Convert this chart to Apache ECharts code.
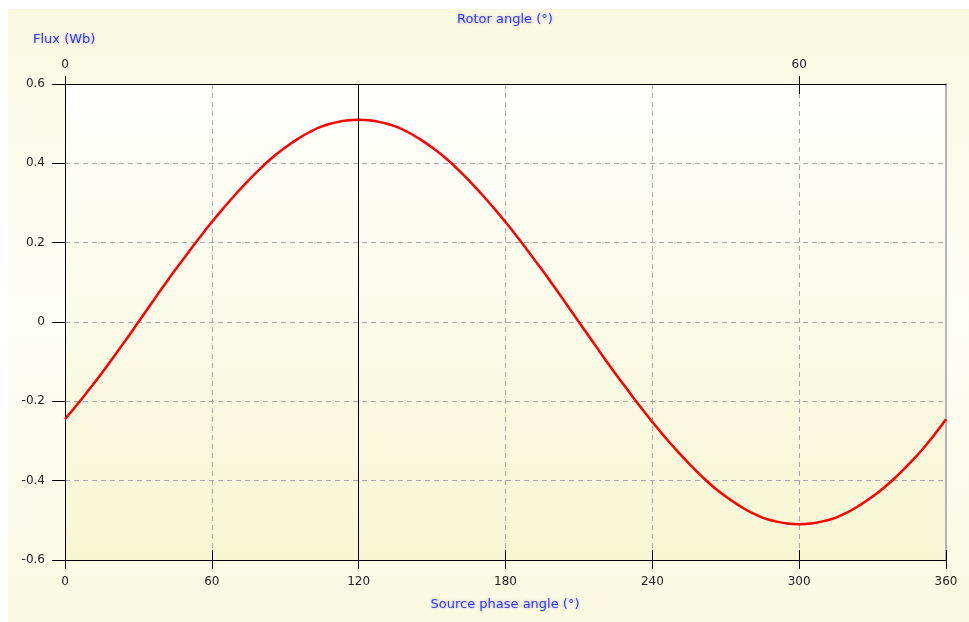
<!DOCTYPE html>
<html>
<head>
<meta charset="utf-8">
<script src="https://cdn.jsdelivr.net/npm/echarts@6/dist/echarts.min.js"></script>
<style>
html,body{margin:0;padding:0;background:#fff;}
#chart{width:969px;height:622px;}
</style>
</head>
<body>
<div id="chart"></div>
<script>
// Source phase angle (degrees)
const sourceAngles = [0,5,10,15,20,25,30,35,40,45,50,55,60,65,70,75,80,85,90,95,100,105,110,115,120,125,130,135,140,145,150,155,160,165,170,175,180,185,190,195,200,205,210,215,220,225,230,235,240,245,250,255,260,265,270,275,280,285,290,295,300,305,310,315,320,325,330,335,340,345,350,355,360];
// Flux (Wb)
const fluxValues = [-0.245,-0.208,-0.169,-0.129,-0.087,-0.044,0.000,0.044,0.088,0.131,0.172,0.213,0.252,0.289,0.324,0.357,0.388,0.416,0.440,0.461,0.479,0.493,0.502,0.508,0.510,0.508,0.502,0.493,0.479,0.461,0.440,0.416,0.388,0.357,0.324,0.289,0.252,0.213,0.172,0.131,0.088,0.044,0.000,-0.044,-0.088,-0.131,-0.172,-0.213,-0.252,-0.289,-0.324,-0.357,-0.388,-0.416,-0.440,-0.461,-0.479,-0.493,-0.502,-0.508,-0.510,-0.508,-0.502,-0.493,-0.479,-0.461,-0.440,-0.416,-0.388,-0.357,-0.324,-0.286,-0.245];
const sourceTicks = [0,60,120,180,240,300,360];
const rotorTicks = [0,60];
const fluxTicks = [-0.6,-0.4,-0.2,0,0.2,0.4,0.6];
const markerAngle = 120;

const chart = echarts.init(document.getElementById('chart'));
const font = 'DejaVu Sans';
const labelStyle = {color:'#222', fontFamily:font, fontSize:12};
const titleStyle = {fill:'#3535ff', fontFamily:font, fontSize:13, textShadowColor:'rgba(120,120,255,0.55)', textShadowBlur:3};

const option = {
  backgroundColor:'#ffffff',
  animation:false,
  graphic:[
    {type:'rect', left:8, top:9, z:-10, silent:true,
     shape:{width:961, height:613},
     style:{fill:new echarts.graphic.LinearGradient(0,0,0,1,[
       {offset:0,color:'#f9f9e1'},{offset:0.5,color:'#fefef9'},{offset:1,color:'#f9f9e1'}])}},
    {type:'text', left:33, top:33, style:Object.assign({text:'Flux (Wb)'}, titleStyle)},
    {type:'text', x:505, y:20, style:Object.assign({text:'Rotor angle (°)', textAlign:'center', textVerticalAlign:'middle'}, titleStyle)},
    {type:'text', x:505, y:605, style:Object.assign({text:'Source phase angle (°)', textAlign:'center', textVerticalAlign:'middle'}, titleStyle)}
  ],
  grid:{left:65, right:23, top:84, bottom:62, show:true, borderWidth:0,
    backgroundColor:new echarts.graphic.LinearGradient(0,0,0,1,[
      {offset:0,color:'#ffffff'},{offset:1,color:'#f7f6d2'}])},
  xAxis:[
    {type:'value', position:'bottom', min:0, max:360, interval:60,
     axisLine:{onZero:false, lineStyle:{color:'#000', width:1}},
     axisTick:{show:true, inside:false, length:9, lineStyle:{color:'#000'}},
     axisLabel:Object.assign({margin:16, customValues:sourceTicks}, labelStyle),
     splitLine:{show:true, lineStyle:{color:'#a8a8a8', type:[5,4], width:1}}},
    {type:'value', position:'bottom', min:0, max:360, interval:60,
     axisLine:{show:false, onZero:false},
     axisTick:{show:true, inside:true, length:10, lineStyle:{color:'#000'}},
     axisLabel:{show:false}, splitLine:{show:false}},
    {type:'value', position:'top', min:0, max:72, interval:60,
     axisLine:{onZero:false, lineStyle:{color:'#000', width:1}},
     axisTick:{show:true, inside:false, length:8, customValues:rotorTicks, lineStyle:{color:'#000'}},
     axisLabel:Object.assign({margin:13, customValues:rotorTicks}, labelStyle),
     splitLine:{show:false}},
    {type:'value', position:'top', min:0, max:72, interval:60,
     axisLine:{show:false, onZero:false},
     axisTick:{show:true, inside:true, length:10, customValues:rotorTicks, lineStyle:{color:'#000'}},
     axisLabel:{show:false}, splitLine:{show:false}}
  ],
  yAxis:[
    {type:'value', position:'left', min:-0.6, max:0.6, interval:0.2,
     axisLine:{show:true, onZero:false, lineStyle:{color:'#000', width:1}},
     axisTick:{show:true, inside:false, length:13, lineStyle:{color:'#000'}},
     axisLabel:Object.assign({margin:20, customValues:fluxTicks, formatter:v=>String(Math.round(v*10)/10)}, labelStyle),
     splitLine:{show:true, lineStyle:{color:'#a8a8a8', type:[5,4], width:1}}},
    {type:'value', position:'right', min:-0.6, max:0.6, interval:0.2,
     axisLine:{show:true, onZero:false, lineStyle:{color:'#b4b4b4', width:2}},
     axisTick:{show:false}, axisLabel:{show:false}, splitLine:{show:false}}
  ],
  series:[{
    type:'line', xAxisIndex:0, yAxisIndex:0,
    data:sourceAngles.map((a,i)=>[a, fluxValues[i]]),
    smooth:0.5, showSymbol:false,
    lineStyle:{color:'#ff0000', width:2.5},
    markLine:{silent:true, symbol:'none', label:{show:false},
      lineStyle:{color:'#000', type:'solid', width:1},
      data:[{xAxis:markerAngle}]}
  }]
};
chart.setOption(option);
</script>
</body>
</html>
